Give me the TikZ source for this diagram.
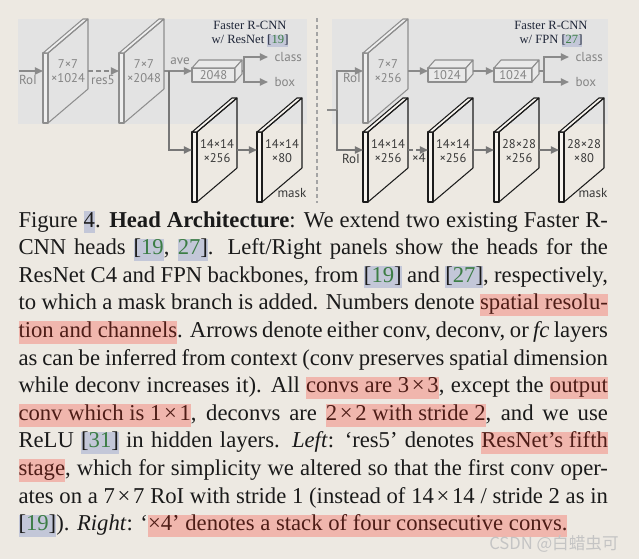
\documentclass[tikz,border=0pt]{standalone}
\usepackage{fontspec}
\setmainfont{Liberation Serif}[Ligatures=TeX]
\newfontfamily\diagfont{PT Sans}
\newfontfamily\cjkfont{Noto Sans CJK SC}
\usetikzlibrary{arrows.meta}
\definecolor{pagebg}{HTML}{EDE9E2}
\definecolor{panelgray}{HTML}{E3E3E3}
\definecolor{planegray}{HTML}{8E8E8E}
\definecolor{stripgray}{HTML}{EFEFEF}
\definecolor{boxfill}{HTML}{E9E9E9}
\definecolor{arrowgray}{HTML}{8A8A8A}
\definecolor{arrowdark}{HTML}{777777}
\definecolor{labelgray}{HTML}{858585}
\definecolor{labeldark}{HTML}{3A3A3A}
\definecolor{maskline}{HTML}{1C1C1C}
\definecolor{maskstrip}{HTML}{F7F4EF}
\definecolor{titleink}{HTML}{1F2638}
\definecolor{captext}{HTML}{1A1A1A}
\definecolor{hlpink}{HTML}{F0B6AD}
\definecolor{hltext}{HTML}{4E1D17}
\definecolor{citebox}{HTML}{C3C7D8}
\definecolor{citegreen}{HTML}{3C7D45}
\definecolor{wmgray}{HTML}{C4C4C4}

\newlength\capw
\setlength\capw{234pt}
\newcommand\hlpink[1]{\leavevmode\setbox0=\hbox{{\color{hltext}#1}}%
  \rlap{\color{hlpink}\rule[-0.28em]{\wd0}{0.99em}}\box0\relax}
\newcommand\hlcite[1]{\leavevmode\setbox0=\hbox{#1}%
  \rlap{\color{citebox}\rule[-0.26em]{\wd0}{0.96em}}\box0\relax}
\newcommand\cnum[1]{\textcolor{citegreen}{#1}}
\newcommand\tms{\kern0.12em×\kern0.12em}

\begin{document}
\begin{tikzpicture}[x=0.397pt,y=-0.397pt,
  slab/.style={line width=0.42pt,line join=round},
  arr/.style={-{Triangle[length=3.2pt,width=2.8pt]},line width=0.7pt,draw=arrowgray},
  arrd/.style={arr,draw=arrowdark},
  plain/.style={line width=0.7pt,draw=arrowgray},
  maplbl/.style={font=\diagfont\fontsize{5pt}{5.8pt}\selectfont,align=center,inner sep=0pt},
  lbl/.style={font=\diagfont\fontsize{5.2pt}{5.8pt}\selectfont,text=labelgray,inner sep=0pt},
  ttl/.style={font=\fontsize{5pt}{5.6pt}\selectfont,text=titleink,align=center,inner sep=0pt},
  capline/.style={anchor=base west,inner sep=0pt,font=\fontsize{9pt}{10.9pt}\selectfont,text=captext}]

\fill[pagebg] (0,0) rectangle (639,559);
\useasboundingbox (0,0) rectangle (639,559);

% panels and separator
\fill[panelgray] (18,19) rectangle (307,124);
\fill[panelgray] (332,19) rectangle (608,124);
\draw[planegray!80,line width=0.7pt,dash pattern=on 1.6pt off 1.2pt] (317,18) -- (317,203);

% box head feature maps
\foreach \n/\X/\Y/\ta/\tb in {mapA/43/123/7×7/×1024,mapB/119/123/7×7/×2048,mapE/363/123/7×7/×256}{
  \filldraw[slab,draw=planegray,fill=stripgray] (\X,\Y) rectangle (\X+5,\Y-70);
  \filldraw[slab,draw=planegray,fill=stripgray] (\X,\Y-70) -- (\X+40,\Y-104) -- (\X+45,\Y-104) -- (\X+5,\Y-70) -- cycle;
  \draw[slab,planegray] (\X+5,\Y) -- (\X+5,\Y-70) -- (\X+45,\Y-104) -- (\X+45,\Y-34) -- cycle;
  \node[maplbl,text=labelgray] (\n) at (\X+25,\Y-52) {\ta\\\tb};
  \coordinate (\n-w) at (\X,\Y-52);
  \coordinate (\n-e) at (\X+45,\Y-52);
}

% mask branch feature maps
\foreach \n/\X/\ta/\tb in {mapC/192/14×14/×256,mapD/257/14×14/×80,mapF/363/14×14/×256,
                          mapG/428/14×14/×256,mapH/494/28×28/×256,mapI/559/28×28/×80}{
  \filldraw[slab,draw=maskline,fill=maskstrip] (\X,202) rectangle (\X+5,132);
  \filldraw[slab,draw=maskline,fill=maskstrip] (\X,132) -- (\X+40,98) -- (\X+45,98) -- (\X+5,132) -- cycle;
  \draw[slab,maskline] (\X+5,202) -- (\X+5,132) -- (\X+45,98) -- (\X+45,168) -- cycle;
  \node[maplbl,text=labeldark] (\n) at (\X+25,151) {\ta\\\tb};
  \coordinate (\n-w) at (\X,150);
  \coordinate (\n-e) at (\X+45,150);
}
\node[lbl,text=labeldark] (maskL) at (292,193) {mask};
\node[lbl,text=labeldark] (maskR) at (593,193) {mask};

% fc boxes
\foreach \n/\x/\w/\t in {fcL/192/43/2048,fcR1/428/38/1024,fcR2/494/38/1024}{
  \filldraw[slab,draw=planegray,fill=boxfill] (\x,68) rectangle (\x+\w,82);
  \filldraw[slab,draw=planegray,fill=boxfill] (\x,68) -- (\x+7,60) -- (\x+\w+7,60) -- (\x+\w,68) -- cycle;
  \filldraw[slab,draw=planegray,fill=boxfill] (\x+\w,68) -- (\x+\w+7,60) -- (\x+\w+7,74) -- (\x+\w,82) -- cycle;
  \node[maplbl,text=labelgray] (\n) at (\x+\w/2,75) {\t};
  \coordinate (\n-w) at (\x,71);
  \coordinate (\n-e) at (\x+\w+7,71);
}

% titles
\node[ttl] (ttlL) at (250,34) {Faster R-CNN\\w/ ResNet \hlcite{[\cnum{19}]}};
\node[ttl] (ttlR) at (551,34) {Faster R-CNN\\w/ FPN \hlcite{[\cnum{27}]}};

% left head
\coordinate (roiL) at (19,71);
\coordinate (brL) at (169,71);
\coordinate (jL) at (244,71);
\draw[arr] (roiL) -- (mapA-w);
\draw[arr,dash pattern=on 2pt off 1.2pt] (mapA-e) -- (mapB-w);
\draw[arr] (mapB-e) -- (fcL-w);
\draw[arrd] (brL) |- (mapC-w);
\draw[arrd] (mapC-e) -- (mapD-w);
\node[lbl,anchor=west,inner xsep=2.4pt] (clsL) at (268,57) {class};
\node[lbl,anchor=west,inner xsep=2.4pt] (boxL) at (268,82) {box};
\draw[plain] (fcL-e) -- (jL);
\draw[arr] (jL) |- (clsL.west);
\draw[arr] (jL) |- (boxL.west);
\node[lbl] (roiLlbl) at (28,80) {RoI};
\node[lbl] (res5) at (103,80) {res5};
\node[lbl] (ave) at (180,61) {ave};

% right head
\coordinate (roiR) at (327,110);
\coordinate (brR) at (337,110);
\coordinate (jR) at (544,71);
\draw[plain] (roiR) -- (brR);
\draw[arr] (brR) |- (mapE-w);
\draw[arrd] (brR) |- (mapF-w);
\draw[arr] (mapE-e) -- (fcR1-w);
\draw[arr] (fcR1-e) -- (fcR2-w);
\draw[plain] (fcR2-e) -- (jR);
\node[lbl,anchor=west,inner xsep=2.4pt] (clsR) at (569,57) {class};
\node[lbl,anchor=west,inner xsep=2.4pt] (boxR) at (569,82) {box};
\draw[arr] (jR) |- (clsR.west);
\draw[arr] (jR) |- (boxR.west);
\draw[arrd,dash pattern=on 2pt off 1.2pt] (mapF-e) -- (mapG-w);
\draw[arrd] (mapG-e) -- (mapH-w);
\draw[arrd] (mapH-e) -- (mapI-w);
\node[lbl] (roiRtop) at (352,78) {RoI};
\node[lbl,text=labeldark] (roiRbot) at (351,159) {RoI};
\node[lbl,text=labeldark] (times4) at (419,158) {×4};

% caption
\node[capline] (cap1) at (18,227.0) {\hbox to\capw{Figure \hlcite{4}. \textbf{Head Architecture}: We extend two existing Faster R-}};
\node[capline] (cap2) at (18,254.6) {\hbox to\capw{CNN heads \hlcite{[\cnum{19}}, \hlcite{\cnum{27}]}. Left/Right panels show the heads for the}};
\node[capline] (cap3) at (18,282.2) {\hbox to\capw{ResNet C4 and FPN backbones, from \hlcite{[\cnum{19}]} and \hlcite{[\cnum{27}]}, respectively,}};
\node[capline] (cap4) at (18,309.8) {\hbox to\capw{to which a mask branch is added. Numbers denote \hlpink{spatial resolu-}}};
\node[capline] (cap5) at (18,337.4) {\hbox to\capw{\hlpink{tion and channels}. Arrows denote either conv, deconv, or \textit{fc} layers}};
\node[capline] (cap6) at (18,365.0) {\hbox to\capw{as can be inferred from context (conv preserves spatial dimension}};
\node[capline] (cap7) at (18,392.6) {\hbox to\capw{while deconv increases it). All \hlpink{convs are 3\tms3}, except the \hlpink{output}}};
\node[capline] (cap8) at (18,420.2) {\hbox to\capw{\hlpink{conv which is 1\tms1}, deconvs are \hlpink{2\tms2 with stride 2}, and we use}};
\node[capline] (cap9) at (18,447.8) {\hbox to\capw{ReLU \hlcite{[\cnum{31}]} in hidden layers. \textit{Left}: `res5' denotes \hlpink{ResNet's fifth}}};
\node[capline] (cap10) at (18,475.4) {\hbox to\capw{\hlpink{stage}, which for simplicity we altered so that the first conv oper-}};
\node[capline] (cap11) at (18,503.0) {\hbox to\capw{ates on a 7\tms7 RoI with stride 1 (instead of 14\tms14 / stride 2 as in}};
\node[capline] (cap12) at (18,530.6) {\hbox to\capw{\hlcite{[\cnum{19}]}). \textit{Right}: `\hlpink{×4' denotes a stack of four consecutive convs.}\hfill}};

% watermark
\node[font=\cjkfont\fontsize{6.6pt}{7pt}\selectfont,text=wmgray,inner sep=0pt] (wmark) at (554,544) {CSDN @白蜡虫可};

\end{tikzpicture}
\end{document}
